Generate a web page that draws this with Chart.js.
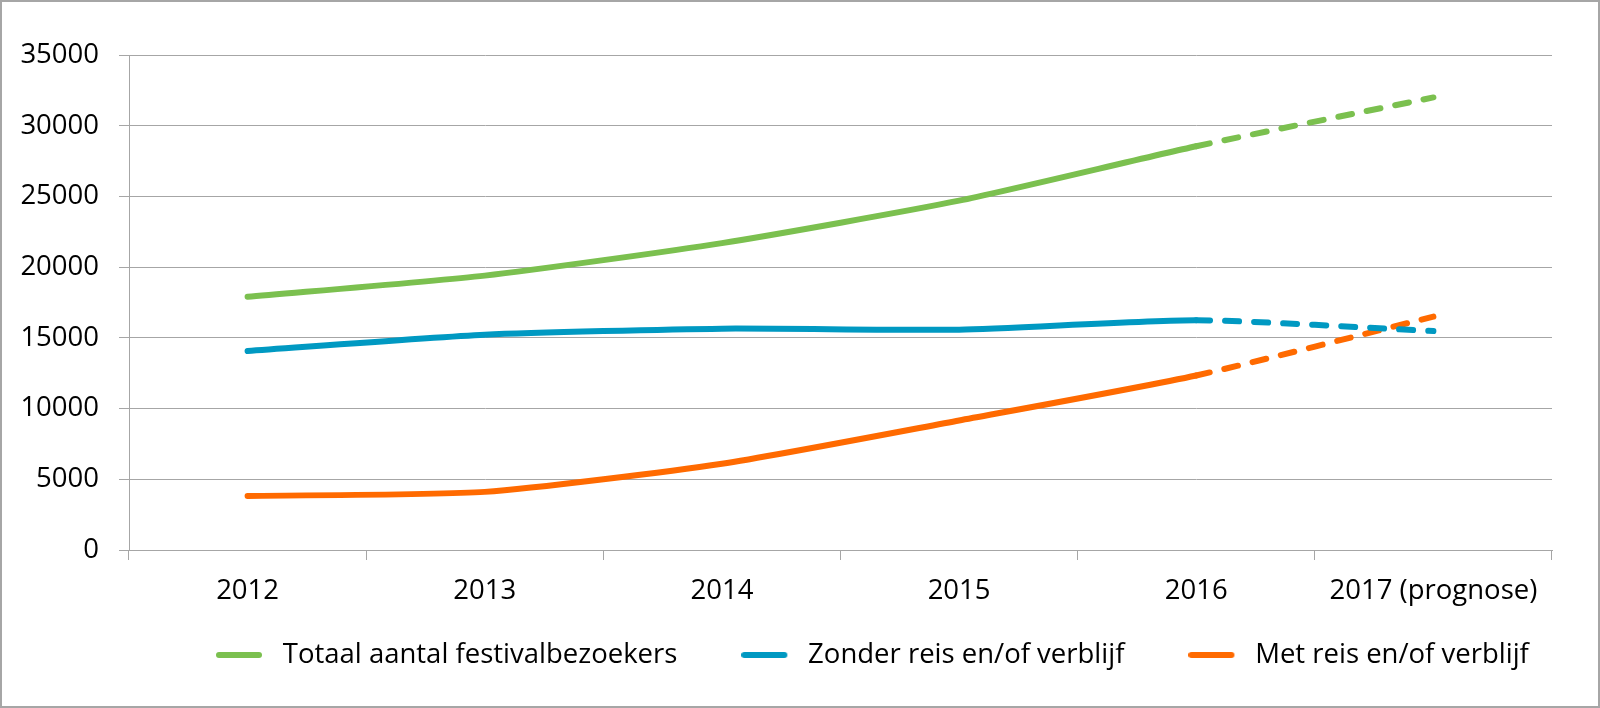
<!DOCTYPE html>
<html>
<head>
<meta charset="utf-8">
<script src="https://cdn.jsdelivr.net/npm/chart.js@4.4.1/dist/chart.umd.min.js"></script>
<style>
  html, body { margin: 0; padding: 0; background: #fff; }
  #wrap { width: 1600px; height: 708px; }
</style>
</head>
<body>
<div id="wrap"><canvas id="chart" width="1600" height="708"></canvas></div>
<script>
// years, last one is a forecast
const years = ['2012', '2013', '2014', '2015', '2016', '2017 (prognose)']
const totaal = [17900, 19400, 21700, 24700, 28550, 32000]
const zonderReis = [14070, 15220, 15650, 15580, 16250, 15480]
const metReis = [3820, 4110, 6100, 9160, 12340, 16500]
const yTicks = [0, 5000, 10000, 15000, 20000, 25000, 30000, 35000]

const FONT = "'Open Sans', sans-serif"
const FSIZE = 27.5
const LEGEND_BOX = 53   // line (46px) + some room before the text
const LEGEND_GAP = 64
const LEGEND_H = FSIZE + LEGEND_GAP + 10   // what chart.js gives a one-row legend

// small picture of a legend line, so the gap to the text can be wider
function legendLine(color) {
    const c = document.createElement('canvas')
    c.width = LEGEND_BOX
    c.height = 10
    const g = c.getContext('2d')
    g.strokeStyle = color
    g.lineWidth = 6
    g.lineCap = 'round'
    g.beginPath()
    g.moveTo(3, 5)
    g.lineTo(43, 5)
    g.stroke()
    return c
}

function makeSet(label, data, color) {
    return {
        label: label,
        data: data,
        borderColor: color,
        backgroundColor: color,
        borderWidth: 6,
        borderCapStyle: 'round',
        pointRadius: 0,
        pointHoverRadius: 0,
        pointStyle: legendLine(color),
        tension: 0.2,
        segment: {
            // the prognose part is dashed
            borderDash: ctx => ctx.p1DataIndex === years.length - 1 ? [14, 15] : undefined
        }
    }
}

// grey frame round the picture, and legend moved to where the original has it
const framePlugin = {
    id: 'frame',
    afterLayout(chart) {
        const lg = chart.legend
        const dx = (216 - LEGEND_GAP) - lg.left
        lg.left += dx
        lg.right += dx
        // text centre at y=655
        const dy = (655 - FSIZE / 2 - LEGEND_GAP) - lg.top
        lg.top += dy
        lg.bottom += dy
    },
    afterDraw(chart) {
        const ctx = chart.ctx
        ctx.save()
        ctx.strokeStyle = '#a6a6a6'
        ctx.lineWidth = 2
        ctx.strokeRect(1, 1, chart.width - 2, chart.height - 2)
        ctx.restore()
    }
}

new Chart(document.getElementById('chart').getContext('2d'), {
    type: 'line',
    data: {
        labels: years,
        datasets: [
            makeSet('Totaal aantal festivalbezoekers', totaal, '#7bc04f'),
            makeSet('Zonder reis en/of verblijf', zonderReis, '#0099c2'),
            makeSet('Met reis en/of verblijf', metReis, '#ff6a00')
        ]
    },
    options: {
        responsive: false,
        animation: false,
        layout: { padding: { top: 55, right: 48, left: 0, bottom: -20 } },
        plugins: {
            tooltip: { enabled: false },
            legend: {
                position: 'bottom',
                align: 'start',
                labels: {
                    usePointStyle: true,
                    pointStyleWidth: LEGEND_BOX,
                    padding: LEGEND_GAP,
                    color: '#000',
                    font: { family: FONT, size: FSIZE }
                }
            }
        },
        scales: {
            x: {
                offset: true,
                grid: {
                    offset: true,
                    drawOnChartArea: false,
                    drawTicks: true,
                    tickLength: 10,
                    color: '#a6a6a6'
                },
                border: { color: '#a6a6a6', width: 1 },
                ticks: {
                    color: '#000',
                    padding: 15,
                    maxRotation: 0,
                    font: { family: FONT, size: FSIZE }
                },
                // plot bottom stays at y=550
                afterFit(scale) { scale.height = 708 + 20 - LEGEND_H - 550 }
            },
            y: {
                min: 0,
                max: 35000,
                afterBuildTicks(scale) { scale.ticks = yTicks.map(v => ({ value: v })) },
                grid: { color: '#a6a6a6', tickLength: 10 },
                border: { color: '#a6a6a6', width: 1 },
                ticks: {
                    color: '#000',
                    padding: 20,
                    font: { family: FONT, size: FSIZE },
                    callback: v => String(v)
                },
                afterFit(scale) { scale.width = 129 }
            }
        }
    },
    plugins: [framePlugin]
})
</script>
</body>
</html>
